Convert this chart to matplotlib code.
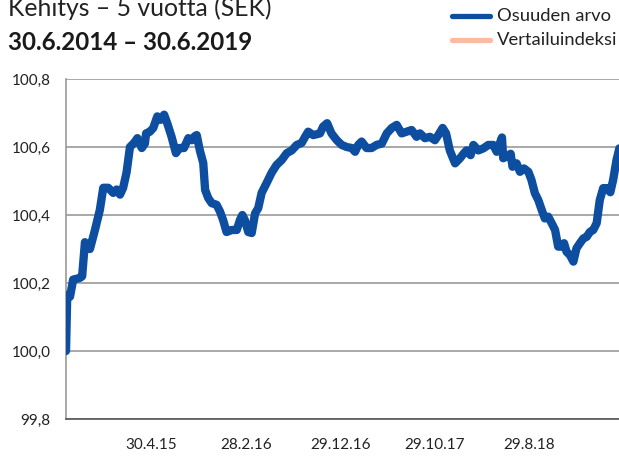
import matplotlib
matplotlib.use("Agg")
import matplotlib.pyplot as plt
import matplotlib.transforms as mtransforms
import numpy as np
import pandas as pd

# days after 30.6.2014 and the fund index value
days = [
    0, 4, 13, 23, 45, 52, 61, 77, 93, 109, 120, 136, 152, 163, 174, 184, 195,
    206, 219, 230, 244, 254, 258, 270, 281, 294, 305, 316, 326, 340, 354, 365,
    380, 394, 405, 415, 421, 431, 442, 448, 458, 469, 485, 496, 506, 517, 534,
    550, 560, 568, 576, 587, 598, 609, 619, 630, 646, 662, 678, 695, 711, 727,
    743, 759, 770, 780, 796, 818, 828, 841, 855, 872, 888, 904, 920, 931, 941,
    952, 968, 984, 1000, 1017, 1033, 1049, 1065, 1081, 1097, 1113, 1129, 1140,
    1156, 1172, 1188, 1199, 1213, 1224, 1236, 1253, 1269, 1280, 1290, 1303,
    1312, 1328, 1344, 1360, 1376, 1387, 1395, 1404, 1408, 1419, 1432, 1438,
    1451, 1462, 1475, 1489, 1499, 1510, 1521, 1532, 1542, 1553, 1564, 1575,
    1585, 1596, 1604, 1612, 1623, 1634, 1644, 1655, 1666, 1677, 1687, 1698,
    1709, 1719, 1730, 1741, 1753, 1762, 1773, 1782,
]
fund = [
    100.00, 100.165, 100.16, 100.21, 100.215, 100.22, 100.32, 100.30, 100.355,
    100.415, 100.48, 100.48, 100.465, 100.475, 100.46, 100.48, 100.525,
    100.60, 100.612, 100.626, 100.597, 100.61, 100.64, 100.645, 100.656,
    100.69, 100.68, 100.695, 100.67, 100.63, 100.582, 100.597, 100.597,
    100.626, 100.62, 100.632, 100.635, 100.59, 100.553, 100.474, 100.45,
    100.435, 100.43, 100.41, 100.385, 100.35, 100.356, 100.356, 100.385,
    100.40, 100.385, 100.35, 100.347, 100.405, 100.42, 100.465, 100.494,
    100.524, 100.547, 100.562, 100.582, 100.59, 100.606, 100.612, 100.63,
    100.645, 100.635, 100.64, 100.66, 100.67, 100.64, 100.62, 100.606,
    100.60, 100.597, 100.586, 100.606, 100.616, 100.597, 100.597, 100.606,
    100.61, 100.64, 100.656, 100.665, 100.64, 100.645, 100.65, 100.63,
    100.64, 100.626, 100.63, 100.62, 100.635, 100.656, 100.64, 100.59,
    100.552, 100.567, 100.58, 100.59, 100.576, 100.606, 100.59, 100.596,
    100.606, 100.606, 100.586, 100.606, 100.628, 100.567, 100.572, 100.58,
    100.542, 100.552, 100.527, 100.537, 100.527, 100.503, 100.464, 100.444,
    100.415, 100.39, 100.395, 100.376, 100.356, 100.307, 100.307, 100.317,
    100.292, 100.282, 100.263, 100.302, 100.317, 100.331, 100.336, 100.35,
    100.356, 100.376, 100.444, 100.479, 100.479, 100.467, 100.503, 100.562,
    100.596,
]

start = pd.Timestamp("2014-06-30")
end = pd.Timestamp("2019-06-30")
tick_dates = ["2015-04-30", "2016-02-28", "2016-12-29", "2017-10-29", "2018-08-29"]
tick_labels = ["30.4.15", "28.2.16", "29.12.16", "29.10.17", "29.8.18"]
y_ticks = [99.8, 100.0, 100.2, 100.4, 100.6, 100.8]

plt.rcParams["font.family"] = ["Lato", "DejaVu Sans"]

blue = "#0d4ea1"
salmon = "#f9bca2"
grid_col = "#9a9a9a"

fig = plt.figure(figsize=(6.19, 4.57), dpi=100)
ax = fig.add_axes([66 / 619, 38 / 457, 567 / 619, 340 / 457])

dates = start + pd.to_timedelta(days, unit="D")
ax.plot(dates, fund, color=blue, lw=6.0, solid_capstyle="round",
        solid_joinstyle="round", zorder=3)

ax.set_xlim(start, end)
ax.set_ylim(99.8, 100.8)
ax.set_yticks(y_ticks)
ax.set_yticklabels([f"{v:.1f}".replace(".", ",") for v in y_ticks])
ax.set_xticks(pd.to_datetime(tick_dates))
ax.set_xticklabels(tick_labels)
ax.tick_params(axis="both", length=0, labelsize=11, colors="#222222")
ax.tick_params(axis="y", pad=11)
ax.tick_params(axis="x", pad=14)
shift = mtransforms.ScaledTranslation(-9 / 100, 0, fig.dpi_scale_trans)
for lab in ax.get_xticklabels():
    lab.set_transform(lab.get_transform() + shift)

ax.grid(axis="y", color=grid_col, lw=1.2)
ax.set_axisbelow(True)
for side in ["top", "right"]:
    ax.spines[side].set_visible(False)
ax.spines["left"].set_color(grid_col)
ax.spines["left"].set_linewidth(1.2)
ax.spines["bottom"].set_color("#555555")
ax.spines["bottom"].set_linewidth(1.2)

# titles
fig.text(8 / 619, 1 - 16.5 / 457, "Kehitys \u2013 5 vuotta (SEK)", fontsize=17.8,
         color="#222222", va="baseline")
fig.text(8 / 619, 1 - 49.5 / 457, "30.6.2014 \u2013 30.6.2019", fontsize=17.4,
         fontweight="bold", color="#1a1a1a", va="baseline")

# legend drawn by hand
leg_x0, leg_x1 = 452 / 619, 490 / 619
for yy, col, name in [(16, blue, "Osuuden arvo"), (40, salmon, "Vertailuindeksi")]:
    fy = 1 - yy / 457
    fig.add_artist(plt.Line2D([leg_x0, leg_x1], [fy, fy], color=col, lw=3.8,
                              solid_capstyle="round"))
    fig.text(497 / 619, fy, name, fontsize=13.2, color="#222222", va="center")

fig.savefig("out.png", dpi=100)
